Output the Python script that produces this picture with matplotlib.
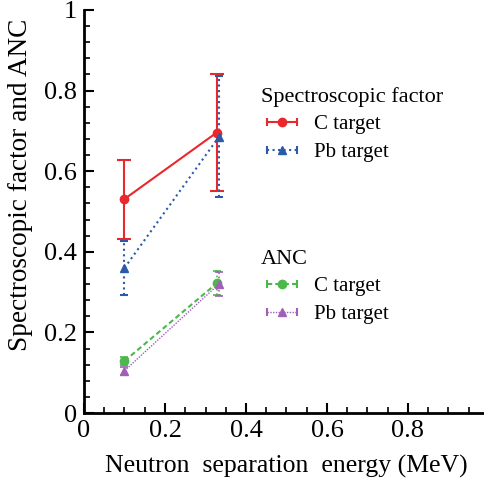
import matplotlib.pyplot as plt
from matplotlib.lines import Line2D
from matplotlib.legend_handler import HandlerLine2D, HandlerTuple
from matplotlib.ticker import MultipleLocator

plt.rcParams['font.family'] = 'Liberation Serif'

## Data
energy_c = [0.1, 0.328]
energy_pb = [0.1, 0.333]

sf_c = [0.531, 0.696]
sf_c_err = [0.098, 0.146]
sf_pb = [0.36, 0.685]
sf_pb_err = [0.066, 0.15]

anc_c = [0.129, 0.322]
anc_c_err = [0.01, 0.03]
anc_pb = [0.105, 0.32]
anc_pb_err = [0.01, 0.03]

xticks = [0, 0.2, 0.4, 0.6, 0.8]
xtick_labels = ['0', '0.2', '0.4', '0.6', '0.8']
yticks = [0, 0.2, 0.4, 0.6, 0.8, 1.0]
ytick_labels = ['0', '0.2', '0.4', '0.6', '0.8', '1']

red = '#e8282c'
blue = '#2b5ba8'
green = '#4cb84a'
purple = '#a060b8'

fig = plt.figure(figsize=(4.85, 4.8), dpi=100)
ax = fig.add_axes([84/485, 67/480, 405/485, 403/480])

## Plot the four series with their error bars
ax.errorbar(energy_c, sf_c, yerr=sf_c_err, color=red, marker='o', ms=6,
            ls='-', lw=1.5, capsize=5, capthick=1.5, elinewidth=1.5)
eb = ax.errorbar(energy_pb, sf_pb, yerr=sf_pb_err, color=blue, marker='^', ms=6,
                 ls=':', lw=1.5, capsize=3, capthick=1.5, elinewidth=1.5)
eb[2][0].set_linestyle(':')
eb = ax.errorbar(energy_c, anc_c, yerr=anc_c_err, color=green, marker='o', ms=6,
                 ls=(0, (2.5, 1.5)), lw=1.5, capsize=3, capthick=1.2, elinewidth=1.2)
eb[2][0].set_linestyle(':')
eb = ax.errorbar(energy_pb, anc_pb, yerr=anc_pb_err, color=purple, marker='^', ms=6,
                 ls=(0, (1, 1)), lw=1.0, capsize=3, capthick=1.2, elinewidth=1.2)
eb[2][0].set_linestyle(':')

ax.set_xlim(0, 1)
ax.set_ylim(0, 1)
ax.set_xticks(xticks)
ax.set_xticklabels(xtick_labels)
ax.set_yticks(yticks)
ax.set_yticklabels(ytick_labels)
ax.xaxis.set_minor_locator(MultipleLocator(0.05))
ax.yaxis.set_minor_locator(MultipleLocator(0.04))
ax.tick_params(which='major', direction='in', length=7, width=1.5, labelsize=19, pad=5)
ax.tick_params(which='minor', direction='in', length=4, width=1.2)
ax.spines['top'].set_visible(False)
ax.spines['right'].set_visible(False)
ax.spines['left'].set_linewidth(2)
ax.spines['bottom'].set_linewidth(2)

ax.set_xlabel('Neutron  separation  energy (MeV)', fontsize=18.5, labelpad=9)
ax.set_ylabel('Spectroscopic factor and ANC', fontsize=19.6)
ax.yaxis.set_label_coords(-0.125, 0.565)

## Legend handles: line with caps at the ends plus a marker in the middle
def make_handle(color, ls, lw, marker):
    caps = Line2D([], [], color=color, ls=ls, lw=lw, marker='|', ms=6, mew=1.5)
    mark = Line2D([], [], color=color, ls='none', marker=marker, ms=6)
    return (caps, mark)

h1 = make_handle(red, '-', 1.5, 'o')
h2 = make_handle(blue, ':', 1.5, '^')
h3 = make_handle(green, (0, (2.5, 1.5)), 1.5, 'o')
h4 = make_handle(purple, (0, (1, 1)), 1.0, '^')

hmap = {}
for h in [h1, h2, h3, h4]:
    hmap[h[0]] = HandlerLine2D(numpoints=2)
    hmap[h[1]] = HandlerLine2D(numpoints=1)
    hmap[h] = HandlerTuple(ndivide=1, pad=0)

leg_kw = dict(loc='upper left', frameon=False, fontsize=15, title_fontsize=16,
              alignment='left', handlelength=2.05, handletextpad=0.5,
              labelspacing=0.38, borderaxespad=0, borderpad=0, handler_map=hmap)
fig.legend([h1, h2], ['C target', 'Pb target'], title='Spectroscopic factor',
           bbox_to_anchor=(261/485, 1 - 87/480), **leg_kw)
fig.legend([h3, h4], ['C target', 'Pb target'], title='ANC',
           bbox_to_anchor=(261/485, 1 - 250/480), **leg_kw)

fig.savefig('out.png', dpi=100)
